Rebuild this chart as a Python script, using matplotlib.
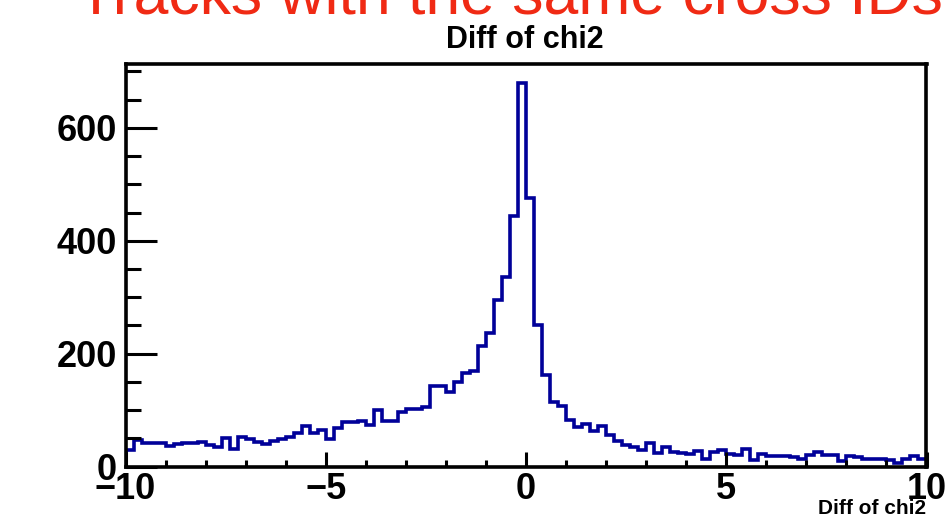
#!/usr/bin/env python3
"""
plot.py
Histogram of chi2 differences for tracks that share cross IDs.
Writes: out.png
"""

import numpy as np
import matplotlib
matplotlib.use("Agg")
import matplotlib.pyplot as plt
from matplotlib.ticker import MultipleLocator

# 100 bins from -10 to 10, counts
x_lo, x_hi, n_bins = -10.0, 10.0, 100
counts = [
    29, 47, 42, 41, 41, 36, 40, 41, 42, 44,
    38, 35, 50, 31, 53, 48, 44, 40, 46, 48,
    53, 60, 72, 59, 64, 49, 69, 78, 79, 81,
    74, 100, 81, 81, 97, 102, 101, 106, 143, 142,
    132, 150, 165, 170, 213, 236, 295, 335, 444, 680,
    476, 250, 162, 114, 107, 83, 70, 76, 63, 71,
    56, 45, 38, 34, 30, 42, 24, 35, 26, 24,
    23, 27, 13, 25, 29, 23, 21, 31, 12, 23,
    18, 19, 18, 16, 14, 21, 26, 20, 20, 9,
    19, 16, 14, 13, 13, 11, 7, 13, 19, 13,
]
y_ticks = [0, 200, 400, 600]
x_ticks = [-10, -5, 0, 5, 10]

title = "Diff of chi2"
x_label = "Diff of chi2"
banner = "Tracks with the same cross IDs"

FONT = "Liberation Sans"
LINE = "#000099"
RED = "#f02a14"

W, H, DPI = 948, 517, 100
fig = plt.figure(figsize=(W / DPI, H / DPI), dpi=DPI)
fig.patch.set_facecolor("white")

# axes box in pixel coords of the reference
left, right, top, bottom = 125.5, 926.5, 63.5, 466.5
ax = fig.add_axes([left / W, 1 - bottom / H, (right - left) / W, (bottom - top) / H])

edges = np.linspace(x_lo, x_hi, n_bins + 1)
ax.stairs(counts, edges, color=LINE, linewidth=2.6)

ax.set_xlim(x_lo, x_hi)
ax.set_ylim(0, max(counts) * 1.05)

ax.set_xticks(x_ticks)
ax.set_yticks(y_ticks)
ax.xaxis.set_minor_locator(MultipleLocator(1))
ax.yaxis.set_minor_locator(MultipleLocator(50))

ax.tick_params(axis="both", which="both", direction="in", width=2.2,
               top=False, right=False)
ax.tick_params(axis="x", which="major", length=11, pad=4)
ax.tick_params(axis="x", which="minor", length=5)
ax.tick_params(axis="y", which="major", length=22, pad=6)
ax.tick_params(axis="y", which="minor", length=11)

for lab in ax.get_xticklabels() + ax.get_yticklabels():
    lab.set_fontfamily(FONT)
    lab.set_fontweight("bold")
    lab.set_fontsize(26)

for sp in ax.spines.values():
    sp.set_linewidth(2.6)

# x label, ROOT style: right aligned under the axis end
fig.text(right / W, 1 - 509 / H, x_label, ha="right", va="center",
         fontfamily=FONT, fontweight="bold", fontsize=15)

# histogram title
fig.text(525 / W, 1 - 40 / H, title, ha="center", va="center",
         fontfamily=FONT, fontweight="bold", fontsize=22)

# red banner, cut off by the top edge
fig.text(510 / W, 1 - 14 / H, banner, ha="center", va="baseline",
         fontfamily=FONT, fontsize=45, color=RED)

fig.savefig("out.png", dpi=DPI, facecolor=fig.get_facecolor())
plt.close(fig)
